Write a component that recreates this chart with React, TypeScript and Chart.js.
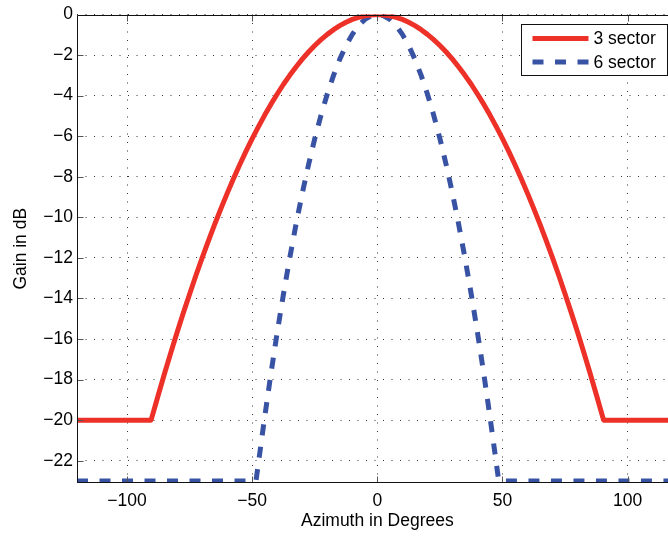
import { useEffect, useRef } from "react";
import { Chart, registerables } from "chart.js";

Chart.register(...registerables);

const seriesLabels = ["3 sector", "6 sector"];

const azimuth3 = [
  -120, -90.4, -87.5, -85, -82.5, -80, -77.5, -75, -72.5, -70, -67.5, -65, -62.5, -60, -57.5, -55, -52.5, -50,
  -47.5, -45, -42.5, -40, -37.5, -35, -32.5, -30, -27.5, -25, -22.5, -20, -17.5, -15, -12.5, -10, -7.5, -5, -2.5, 0,
  2.5, 5, 7.5, 10, 12.5, 15, 17.5, 20, 22.5, 25, 27.5, 30, 32.5, 35, 37.5, 40, 42.5, 45, 47.5,
  50, 52.5, 55, 57.5, 60, 62.5, 65, 67.5, 70, 72.5, 75, 77.5, 80, 82.5, 85, 87.5, 90.4, 120,
];
const gain3 = [
  -20, -20, -18.75, -17.69, -16.67, -15.67, -14.71, -13.78, -12.87, -12.0, -11.16, -10.35, -9.57, -8.82, -8.1, -7.41, -6.75, -6.12,
  -5.53, -4.96, -4.42, -3.92, -3.44, -3.0, -2.59, -2.2, -1.85, -1.53, -1.24, -0.98, -0.75, -0.55, -0.38, -0.24, -0.14, -0.06, -0.02, 0,
  -0.02, -0.06, -0.14, -0.24, -0.38, -0.55, -0.75, -0.98, -1.24, -1.53, -1.85, -2.2, -2.59, -3.0, -3.44, -3.92, -4.42, -4.96, -5.53,
  -6.12, -6.75, -7.41, -8.1, -8.82, -9.57, -10.35, -11.16, -12.0, -12.87, -13.78, -14.71, -15.67, -16.67, -17.69, -18.75, -20, -20,
];

const azimuth6 = [
  -120, -48.5, -47.5, -45, -42.5, -40, -37.5, -35, -32.5, -30, -27.5, -25, -22.5, -20, -17.5, -15, -12.5, -10, -7.5, -5, -2.5, 0,
  2.5, 5, 7.5, 10, 12.5, 15, 17.5, 20, 22.5, 25, 27.5, 30, 32.5, 35, 37.5, 40, 42.5, 45, 47.5, 48.5, 120,
];
const gain6 = [
  -23, -23, -22.1, -19.84, -17.69, -15.67, -13.78, -12.0, -10.35, -8.82, -7.41, -6.12, -4.96, -3.92, -3.0, -2.2, -1.53, -0.98, -0.55, -0.24, -0.06, 0,
  -0.06, -0.24, -0.55, -0.98, -1.53, -2.2, -3.0, -3.92, -4.96, -6.12, -7.41, -8.82, -10.35, -12.0, -13.78, -15.67, -17.69, -19.84, -22.1, -23, -23,
];

const xTicks = [-100, -50, 0, 50, 100];
const yTicks = [0, -2, -4, -6, -8, -10, -12, -14, -16, -18, -20, -22];
const xRange = [-120, 120];
const yRange = [-23.1, 0];

const W = 690;
const H = 536;
const FONT = "'Liberation Sans', Arial, Helvetica, sans-serif";
const FS = 17.5;

const fmt = (v: number) => String(v).replace("-", "\u2212");

export default function App() {
  const ref = useRef<HTMLCanvasElement>(null);

  useEffect(() => {
    if (!ref.current) return;

    const framePlugin = {
      id: "frame",
      afterDatasetsDraw(chart: any) {
        const { ctx, chartArea: ca, scales } = chart;
        const l = Math.round(ca.left) + 0.5;
        const t = Math.round(ca.top) + 0.5;
        const r = Math.round(ca.right) + 0.5;
        const b = Math.round(ca.bottom) - 0.5;
        ctx.save();
        ctx.setLineDash([]);
        ctx.strokeStyle = "#555";
        ctx.lineWidth = 1;
        ctx.beginPath();
        for (const v of xTicks) {
          const px = Math.round(scales.x.getPixelForValue(v)) + 0.5;
          ctx.moveTo(px, b);
          ctx.lineTo(px, b - 6);
          ctx.moveTo(px, t);
          ctx.lineTo(px, t + 6);
        }
        for (const v of yTicks) {
          const py = Math.round(scales.y.getPixelForValue(v)) + 0.5;
          ctx.moveTo(l, py);
          ctx.lineTo(l + 6, py);
          ctx.moveTo(r, py);
          ctx.lineTo(r - 6, py);
        }
        ctx.stroke();
        ctx.strokeStyle = "#111";
        ctx.beginPath();
        ctx.moveTo(l, t);
        ctx.lineTo(r, t);
        ctx.lineTo(r, b);
        ctx.lineTo(l, b);
        ctx.closePath();
        ctx.stroke();
        ctx.restore();
      },
    };

    const legendPlugin = {
      id: "boxLegend",
      afterDraw(chart: any) {
        const { ctx, chartArea: ca } = chart;
        const bx = Math.round(ca.right - 157) + 0.5;
        const by = Math.round(ca.top + 9) + 0.5;
        const bw = 146;
        const bh = 51;
        ctx.save();
        ctx.fillStyle = "#fff";
        ctx.fillRect(bx, by, bw, bh);
        ctx.setLineDash([]);
        ctx.strokeStyle = "#111";
        ctx.lineWidth = 1;
        ctx.strokeRect(bx, by, bw, bh);
        chart.data.datasets.forEach((ds: any, i: number) => {
          const y = by + 14 + i * 23.6;
          ctx.save();
          ctx.strokeStyle = ds.borderColor;
          ctx.lineWidth = ds.borderWidth;
          ctx.lineCap = "butt";
          ctx.setLineDash(ds.borderDash || []);
          ctx.beginPath();
          ctx.moveTo(bx + 11, y);
          ctx.lineTo(bx + 67, y);
          ctx.stroke();
          ctx.restore();
          ctx.fillStyle = "#000";
          ctx.font = `${FS}px ${FONT}`;
          ctx.textBaseline = "middle";
          ctx.textAlign = "left";
          ctx.fillText(ds.label, bx + 72, y + 1);
        });
        ctx.restore();
      },
    };

    const chart = new Chart(ref.current, {
      type: "line",
      data: {
        datasets: [
          {
            label: seriesLabels[0],
            data: azimuth3.map((x, i) => ({ x, y: gain3[i] })),
            borderColor: "#ED3129",
            borderWidth: 5,
            pointRadius: 0,
            tension: 0,
            borderJoinStyle: "round",
            borderCapStyle: "butt",
            clip: 0,
          },
          {
            label: seriesLabels[1],
            data: azimuth6.map((x, i) => ({ x, y: gain6[i] })),
            borderColor: "#3953A4",
            borderWidth: 5,
            borderDash: [11, 11.5],
            pointRadius: 0,
            tension: 0,
            borderJoinStyle: "round",
            borderCapStyle: "butt",
            clip: 0,
          },
        ],
      },
      options: {
        responsive: false,
        animation: false,
        devicePixelRatio: 1,
        layout: { padding: { left: 0, right: W - 677.7, top: 12.5, bottom: 0 } },
        plugins: {
          legend: { display: false },
          tooltip: { enabled: false },
        },
        scales: {
          x: {
            type: "linear",
            min: xRange[0],
            max: xRange[1],
            afterBuildTicks: (s: any) => {
              s.ticks = xTicks.map((value) => ({ value }));
            },
            afterFit: (s: any) => {
              s.height = 53;
            },
            grid: { color: "rgba(0,0,0,0.8)", lineWidth: 1, drawTicks: false },
            border: { display: false, dash: [1, 7.5] },
            ticks: {
              autoSkip: false,
              maxRotation: 0,
              padding: 8,
              color: "#000",
              font: { family: FONT, size: FS },
              callback: (v: any) => fmt(Number(v)),
            },
            title: {
              display: true,
              text: "Azimuth in Degrees",
              color: "#000",
              font: { family: FONT, size: FS },
              padding: { top: 0, bottom: 4 },
            },
          },
          y: {
            type: "linear",
            min: yRange[0],
            max: yRange[1],
            afterBuildTicks: (s: any) => {
              s.ticks = yTicks.map((value) => ({ value }));
            },
            afterFit: (s: any) => {
              s.width = 77;
            },
            grid: { color: "rgba(0,0,0,0.8)", lineWidth: 1, drawTicks: false },
            border: { display: false, dash: [1, 7.5] },
            ticks: {
              autoSkip: false,
              padding: 4,
              color: "#000",
              font: { family: FONT, size: FS },
              callback: (v: any) => fmt(Number(v)),
            },
            title: {
              display: true,
              text: "Gain in dB",
              color: "#000",
              font: { family: FONT, size: FS },
              padding: { top: 11, bottom: 0 },
            },
          },
        },
      },
      plugins: [framePlugin, legendPlugin],
    } as any);

    return () => chart.destroy();
  }, []);

  return (
    <div
      style={{
        position: "fixed",
        left: 0,
        top: 0,
        width: 668,
        height: 536,
        overflow: "hidden",
        background: "#fff",
      }}
    >
      <canvas ref={ref} width={W} height={H} style={{ width: W, height: H, display: "block" }} />
    </div>
  );
}
